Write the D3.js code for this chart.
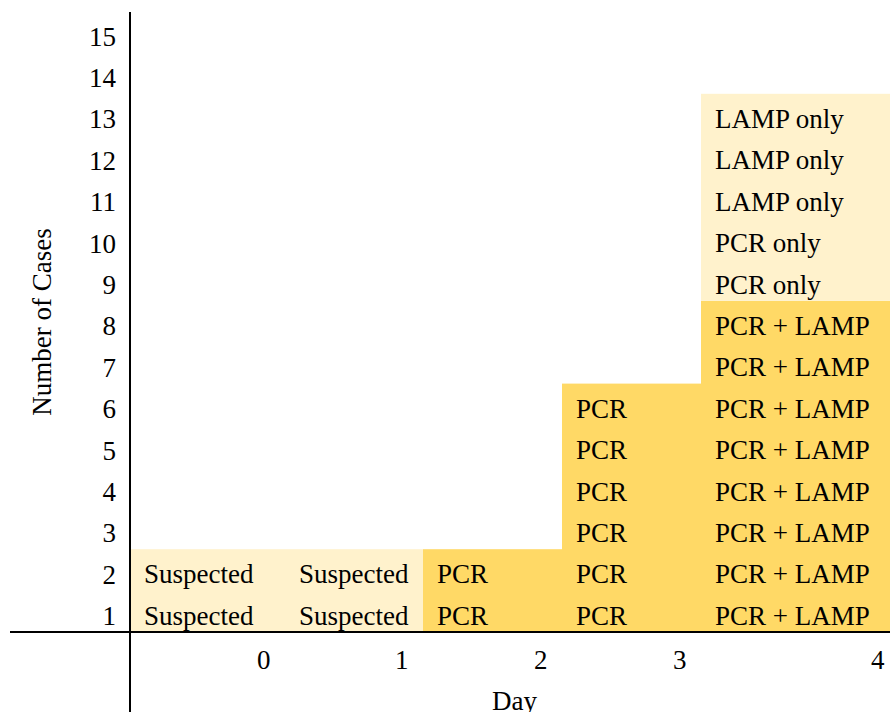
<!DOCTYPE html>
<html>
<head>
<meta charset="utf-8">
<script src="https://cdn.jsdelivr.net/npm/d3@7"></script>
<style>
  body { margin: 0; background: #fff; }
  text { font-family: "Liberation Serif", "Times New Roman", serif; fill: #000; }
</style>
</head>
<body>
<div id="chart"></div>
<script>
// days and number of cases per result type (stacked bottom to top)
var days = [0, 1, 2, 3, 4];
var suspected = [2, 2, 0, 0, 0];
var pcr = [0, 0, 2, 6, 0];
var pcrLamp = [0, 0, 0, 0, 8];
var pcrOnly = [0, 0, 0, 0, 2];
var lampOnly = [0, 0, 0, 0, 3];
var categories = ["Suspected", "PCR", "PCR + LAMP", "PCR only", "LAMP only"];
var yTicks = [1, 2, 3, 4, 5, 6, 7, 8, 9, 10, 11, 12, 13, 14, 15];

var colorOf = {
  "Suspected": "#fff2cc",
  "PCR": "#ffd966",
  "PCR + LAMP": "#ffd966",
  "PCR only": "#fff2cc",
  "LAMP only": "#fff2cc"
};

var W = 890, H = 712, fontSize = 27;

var svg = d3.select("#chart").append("svg")
  .attr("width", W)
  .attr("height", H);

// columns are not equal width (table-like), so x is piecewise
var x = d3.scaleLinear()
  .domain([0, 1, 2, 3, 4, 5])
  .range([130, 285, 423, 562, 701, 899]);

var y = d3.scaleLinear()
  .domain([0, 15])
  .range([632, 11]);

var series = [suspected, pcr, pcrLamp, pcrOnly, lampOnly];
var table = days.map(function(d, i) {
  var row = { day: d, idx: i };
  categories.forEach(function(c, k) { row[c] = series[k][i]; });
  return row;
});

var stacked = d3.stack().keys(categories)(table);

// blocks
stacked.forEach(function(layer) {
  svg.append("g").selectAll("rect")
    .data(layer.filter(function(s) { return s[1] > s[0]; }))
    .enter().append("rect")
    .attr("x", function(s) { return x(s.data.idx); })
    .attr("width", function(s) { return x(s.data.idx + 1) - x(s.data.idx); })
    .attr("y", function(s) { return y(s[1]); })
    .attr("height", function(s) { return y(s[0]) - y(s[1]); })
    .attr("fill", colorOf[layer.key]);
});

// one label per case
var cells = [];
stacked.forEach(function(layer) {
  layer.forEach(function(s) {
    for (var r = s[0]; r < s[1]; r++) {
      cells.push({ idx: s.data.idx, row: r, label: layer.key });
    }
  });
});

svg.append("g").selectAll("text")
  .data(cells)
  .enter().append("text")
  .attr("x", function(d) { return x(d.idx) + 14; })
  .attr("y", function(d) { return y(d.row); })
  .attr("dy", "-0.27em")
  .style("font-size", fontSize + "px")
  .text(function(d) { return d.label; });

// y axis labels
var yAxis = svg.append("g")
  .attr("transform", "translate(130,0)")
  .call(d3.axisLeft(y).tickValues(yTicks).tickSize(0).tickPadding(14).tickFormat(d3.format("d")));
yAxis.select(".domain").remove();
yAxis.selectAll("text")
  .attr("y", function(d) { return y(d - 1) - y(d); })
  .attr("dy", "-0.27em")
  .style("font-size", fontSize + "px")
  .style("font-family", "'Liberation Serif', 'Times New Roman', serif");

// x axis labels, right aligned in each column
var xAxis = svg.append("g")
  .attr("transform", "translate(0,632)")
  .call(d3.axisBottom(x).tickValues([1, 2, 3, 4, 5]).tickSize(0)
    .tickFormat(function(v) { return days[v - 1]; }));
xAxis.select(".domain").remove();
xAxis.selectAll("text")
  .attr("text-anchor", "end")
  .attr("dx", -15)
  .attr("y", 37)
  .attr("dy", 0)
  .style("font-size", fontSize + "px")
  .style("font-family", "'Liberation Serif', 'Times New Roman', serif");

// axis lines
svg.append("line")
  .attr("x1", 10).attr("x2", W)
  .attr("y1", y(0)).attr("y2", y(0))
  .attr("stroke", "#000").attr("stroke-width", 2);
svg.append("line")
  .attr("x1", x(0)).attr("x2", x(0))
  .attr("y1", 12).attr("y2", H)
  .attr("stroke", "#000").attr("stroke-width", 2);

// titles
svg.append("text")
  .attr("x", (x(0) + x(5)) / 2)
  .attr("y", 710)
  .attr("text-anchor", "middle")
  .style("font-size", fontSize + "px")
  .text("Day");

svg.append("text")
  .attr("transform", "translate(51," + ((12 + 632) / 2) + ") rotate(-90)")
  .attr("text-anchor", "middle")
  .style("font-size", fontSize + "px")
  .text("Number of Cases");
</script>
</body>
</html>
